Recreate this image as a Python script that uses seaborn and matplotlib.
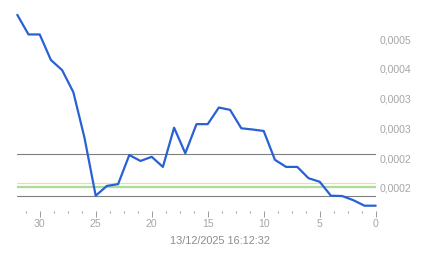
import matplotlib
matplotlib.use("Agg")
import matplotlib.pyplot as plt
import seaborn as sns
import pandas as pd
from matplotlib.ticker import FixedLocator, FixedFormatter, MultipleLocator

# ---- data ----
x_days = list(range(32, -1, -1))
values = [0.000491, 0.000458, 0.000458, 0.000415, 0.000398, 0.000361, 0.000284,
          0.0001865, 0.000203, 0.000206, 0.000255, 0.000245, 0.000252, 0.000235,
          0.000301, 0.000258, 0.000307, 0.000307, 0.000335, 0.000331, 0.000300,
          0.000298, 0.0002955, 0.000247, 0.000235, 0.000235, 0.000216, 0.000210,
          0.0001865, 0.000186, 0.000179, 0.0001697, 0.0001697]
gray_levels = [0.000256, 0.0001855]
yellow_level = 0.000208
green_level = 0.0002017
y_ticks = [0.0002, 0.00025, 0.0003, 0.00035, 0.0004, 0.00045]
y_tick_labels = ["0,0002", "0,0002", "0,0003", "0,0003", "0,0004", "0,0005"]
x_ticks = [30, 25, 20, 15, 10, 5, 0]
x_tick_labels = ["30", "25", "20", "15", "10", "5", "0"]
timestamp = "13/12/2025 16:12:32"

sns.set_style("white")
plt.rcParams["font.family"] = ["Liberation Sans", "DejaVu Sans"]

fig = plt.figure(figsize=(4.43, 2.58), dpi=100)
ax = fig.add_axes([17.3 / 443, 1 - 211 / 258, (375.7 - 17.3) / 443, (211 - 10) / 258])

df = pd.DataFrame({"day": x_days, "value": values})

for lvl in gray_levels:
    ax.axhline(lvl, color="#7f7f7f", lw=0.8, zorder=1)
ax.axhline(yellow_level, color="#f2dc98", lw=0.9, zorder=1)
ax.axhline(green_level, color="#a8dc98", lw=1.6, zorder=1)

sns.lineplot(data=df, x="day", y="value", ax=ax, color="#2861d4", lw=1.6,
             zorder=3, clip_on=False)

ax.set_xlim(32, 0)
ax.set_ylim(0.00016078, 0.00049916)

for s in ax.spines.values():
    s.set_visible(False)

ax.xaxis.set_major_locator(FixedLocator(x_ticks))
ax.xaxis.set_major_formatter(FixedFormatter(x_tick_labels))
ax.xaxis.set_minor_locator(MultipleLocator(1.25))
ax.tick_params(axis="x", which="major", length=4.0, width=0.7, color="#999999",
               direction="out", labelsize=7.6, labelcolor="#a6a6a6", pad=2, bottom=True)
ax.tick_params(axis="x", which="minor", length=1.6, width=0.7, color="#999999",
               direction="out", bottom=True)

ax.yaxis.tick_right()
ax.yaxis.set_major_locator(FixedLocator(y_ticks))
ax.yaxis.set_major_formatter(FixedFormatter(y_tick_labels))
ax.tick_params(axis="y", which="both", length=0, labelsize=7.6, labelcolor="#a6a6a6", pad=3)
ax.set_xlabel("")
ax.set_ylabel("")
ax.grid(False)

fig.text(219.7 / 443, 1 - 240.5 / 258, timestamp, ha="center", va="center",
         fontsize=7.8, color="#8c8c8c")

fig.savefig("out.png", dpi=100)
